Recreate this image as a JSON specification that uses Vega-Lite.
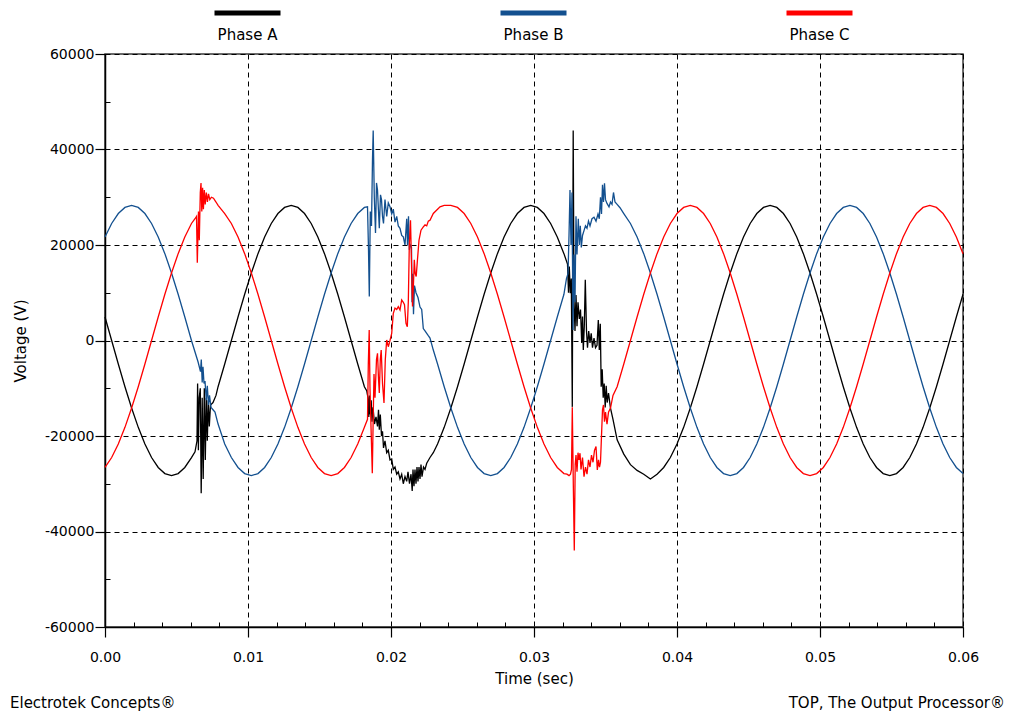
{
"$schema": "https://vega.github.io/schema/vega-lite/v6.json",
"width": 858,
"height": 573,
"autosize": {"type": "none"},
"padding": {"left": 105, "top": 54, "right": 49, "bottom": 90},
"background": "white",
"config": {
  "view": {"stroke": "#3a3a3a", "strokeWidth": 1.5},
  "font": "DejaVu Sans",
  "axis": {"labelFont": "DejaVu Sans", "titleFont": "DejaVu Sans", "labelColor": "#000", "titleColor": "#000", "titleFontWeight": "normal", "domainColor": "#000", "tickColor": "#000"}
},
"data": {"values": [
{"phase":"Phase A","t":0,"v":4914},{"phase":"Phase A","t":0.000465,"v":0},{"phase":"Phase A","t":0.00093,"v":-4914},{"phase":"Phase A","t":0.001395,"v":-9679},{"phase":"Phase A","t":0.00186,"v":-14150},{"phase":"Phase A","t":0.002326,"v":-18191},{"phase":"Phase A","t":0.002791,"v":-21679},{"phase":"Phase A","t":0.003256,"v":-24509},{"phase":"Phase A","t":0.003721,"v":-26593},{"phase":"Phase A","t":0.004186,"v":-27870},{"phase":"Phase A","t":0.004651,"v":-28300},{"phase":"Phase A","t":0.005116,"v":-27870},{"phase":"Phase A","t":0.005581,"v":-26593},{"phase":"Phase A","t":0.006047,"v":-24509},
{"phase":"Phase A","t":0.006294,"v":-23300},{"phase":"Phase A","t":0.006434,"v":-21000},{"phase":"Phase A","t":0.006476,"v":-9000},{"phase":"Phase A","t":0.006531,"v":-23000},{"phase":"Phase A","t":0.006587,"v":-12000},{"phase":"Phase A","t":0.006664,"v":-10000},{"phase":"Phase A","t":0.006727,"v":-32000},{"phase":"Phase A","t":0.006797,"v":-12000},{"phase":"Phase A","t":0.006867,"v":-29000},{"phase":"Phase A","t":0.006944,"v":-10000},{"phase":"Phase A","t":0.007014,"v":-25000},{"phase":"Phase A","t":0.007084,"v":-12000},{"phase":"Phase A","t":0.007154,"v":-21000},{"phase":"Phase A","t":0.007224,"v":-12500},{"phase":"Phase A","t":0.007294,"v":-18000},{"phase":"Phase A","t":0.007378,"v":-13500},{"phase":"Phase A","t":0.007552,"v":-13000},{"phase":"Phase A","t":0.007762,"v":-11500},
{"phase":"Phase A","t":0.007907,"v":-9679},{"phase":"Phase A","t":0.008372,"v":-4914},{"phase":"Phase A","t":0.008837,"v":0},{"phase":"Phase A","t":0.009302,"v":4914},{"phase":"Phase A","t":0.009767,"v":9679},{"phase":"Phase A","t":0.010233,"v":14150},{"phase":"Phase A","t":0.010698,"v":18191},{"phase":"Phase A","t":0.011163,"v":21679},{"phase":"Phase A","t":0.011628,"v":24509},{"phase":"Phase A","t":0.012093,"v":26593},{"phase":"Phase A","t":0.012558,"v":27870},{"phase":"Phase A","t":0.013023,"v":28300},{"phase":"Phase A","t":0.013488,"v":27870},{"phase":"Phase A","t":0.013953,"v":26593},{"phase":"Phase A","t":0.014419,"v":24509},{"phase":"Phase A","t":0.014884,"v":21679},{"phase":"Phase A","t":0.015349,"v":18191},{"phase":"Phase A","t":0.015814,"v":14150},{"phase":"Phase A","t":0.016279,"v":9679},{"phase":"Phase A","t":0.016744,"v":4914},{"phase":"Phase A","t":0.017209,"v":0},{"phase":"Phase A","t":0.017674,"v":-4914},{"phase":"Phase A","t":0.01814,"v":-9679},
{"phase":"Phase A","t":0.018301,"v":-10500},{"phase":"Phase A","t":0.018392,"v":-12000},{"phase":"Phase A","t":0.018448,"v":-16000},{"phase":"Phase A","t":0.018497,"v":-11500},{"phase":"Phase A","t":0.018552,"v":-15500},{"phase":"Phase A","t":0.018615,"v":-12500},{"phase":"Phase A","t":0.018671,"v":-17000},{"phase":"Phase A","t":0.018741,"v":-14000},{"phase":"Phase A","t":0.018846,"v":-17500},{"phase":"Phase A","t":0.018951,"v":-16000},{"phase":"Phase A","t":0.019056,"v":-18000},{"phase":"Phase A","t":0.019126,"v":-14500},{"phase":"Phase A","t":0.019182,"v":-18700},{"phase":"Phase A","t":0.019252,"v":-15500},{"phase":"Phase A","t":0.019336,"v":-20000},{"phase":"Phase A","t":0.019406,"v":-19000},{"phase":"Phase A","t":0.019476,"v":-22500},{"phase":"Phase A","t":0.01958,"v":-21000},{"phase":"Phase A","t":0.019699,"v":-23500},{"phase":"Phase A","t":0.019811,"v":-23000},{"phase":"Phase A","t":0.01993,"v":-25000},{"phase":"Phase A","t":0.020049,"v":-24800},{"phase":"Phase A","t":0.020161,"v":-27000},{"phase":"Phase A","t":0.02028,"v":-26500},{"phase":"Phase A","t":0.020399,"v":-28000},{"phase":"Phase A","t":0.02051,"v":-27500},{"phase":"Phase A","t":0.020629,"v":-29000},{"phase":"Phase A","t":0.020748,"v":-28000},{"phase":"Phase A","t":0.02086,"v":-30000},{"phase":"Phase A","t":0.020979,"v":-28500},{"phase":"Phase A","t":0.021098,"v":-29500},{"phase":"Phase A","t":0.021189,"v":-27500},{"phase":"Phase A","t":0.021294,"v":-30000},{"phase":"Phase A","t":0.021399,"v":-28000},{"phase":"Phase A","t":0.021483,"v":-31500},{"phase":"Phase A","t":0.021538,"v":-27000},{"phase":"Phase A","t":0.021608,"v":-30500},{"phase":"Phase A","t":0.021678,"v":-27000},{"phase":"Phase A","t":0.021748,"v":-30000},{"phase":"Phase A","t":0.021818,"v":-26500},{"phase":"Phase A","t":0.021888,"v":-29500},{"phase":"Phase A","t":0.021958,"v":-26500},{"phase":"Phase A","t":0.022028,"v":-29000},{"phase":"Phase A","t":0.022098,"v":-26000},{"phase":"Phase A","t":0.022168,"v":-28500},{"phase":"Phase A","t":0.022273,"v":-26500},{"phase":"Phase A","t":0.022378,"v":-27000},{"phase":"Phase A","t":0.022497,"v":-25700},{"phase":"Phase A","t":0.022727,"v":-24500},{"phase":"Phase A","t":0.022958,"v":-23500},
{"phase":"Phase A","t":0.023256,"v":-21679},{"phase":"Phase A","t":0.023721,"v":-18191},{"phase":"Phase A","t":0.024186,"v":-14150},{"phase":"Phase A","t":0.024651,"v":-9679},{"phase":"Phase A","t":0.025116,"v":-4914},{"phase":"Phase A","t":0.025581,"v":0},{"phase":"Phase A","t":0.026047,"v":4914},{"phase":"Phase A","t":0.026512,"v":9679},{"phase":"Phase A","t":0.026977,"v":14150},{"phase":"Phase A","t":0.027442,"v":18191},{"phase":"Phase A","t":0.027907,"v":21679},{"phase":"Phase A","t":0.028372,"v":24509},{"phase":"Phase A","t":0.028837,"v":26593},{"phase":"Phase A","t":0.029302,"v":27870},{"phase":"Phase A","t":0.029767,"v":28300},{"phase":"Phase A","t":0.030233,"v":27870},{"phase":"Phase A","t":0.030698,"v":26593},{"phase":"Phase A","t":0.031163,"v":24509},{"phase":"Phase A","t":0.031628,"v":21679},{"phase":"Phase A","t":0.032093,"v":18191},
{"phase":"Phase A","t":0.032343,"v":16000},{"phase":"Phase A","t":0.032413,"v":10000},{"phase":"Phase A","t":0.032469,"v":15500},{"phase":"Phase A","t":0.032538,"v":9900},{"phase":"Phase A","t":0.032608,"v":13000},{"phase":"Phase A","t":0.032678,"v":-13900},{"phase":"Phase A","t":0.032741,"v":44000},{"phase":"Phase A","t":0.032797,"v":8500},{"phase":"Phase A","t":0.032867,"v":2000},{"phase":"Phase A","t":0.032937,"v":9500},{"phase":"Phase A","t":0.033007,"v":3000},{"phase":"Phase A","t":0.033077,"v":8000},{"phase":"Phase A","t":0.033168,"v":4500},{"phase":"Phase A","t":0.033252,"v":6500},{"phase":"Phase A","t":0.033336,"v":-500},{"phase":"Phase A","t":0.033392,"v":5000},{"phase":"Phase A","t":0.033448,"v":-2000},{"phase":"Phase A","t":0.033517,"v":3000},{"phase":"Phase A","t":0.033587,"v":12700},{"phase":"Phase A","t":0.033671,"v":2000},{"phase":"Phase A","t":0.033741,"v":-1500},{"phase":"Phase A","t":0.033825,"v":2000},{"phase":"Phase A","t":0.033916,"v":-500},{"phase":"Phase A","t":0.034,"v":1500},{"phase":"Phase A","t":0.034091,"v":-1500},{"phase":"Phase A","t":0.034196,"v":500},{"phase":"Phase A","t":0.034301,"v":-1500},{"phase":"Phase A","t":0.034406,"v":-1000},{"phase":"Phase A","t":0.034497,"v":4300},{"phase":"Phase A","t":0.034566,"v":-2000},{"phase":"Phase A","t":0.034636,"v":3500},{"phase":"Phase A","t":0.034699,"v":-9700},{"phase":"Phase A","t":0.034769,"v":-6000},{"phase":"Phase A","t":0.034839,"v":-12000},{"phase":"Phase A","t":0.034909,"v":-9000},{"phase":"Phase A","t":0.034979,"v":-14000},{"phase":"Phase A","t":0.035049,"v":-9500},{"phase":"Phase A","t":0.035119,"v":-13000},{"phase":"Phase A","t":0.03521,"v":-11000},
{"phase":"Phase A","t":0.035349,"v":-14150},{"phase":"Phase A","t":0.035524,"v":-16500},{"phase":"Phase A","t":0.035814,"v":-20800},{"phase":"Phase A","t":0.036279,"v":-23800},{"phase":"Phase A","t":0.036744,"v":-26000},{"phase":"Phase A","t":0.037209,"v":-27200},{"phase":"Phase A","t":0.037674,"v":-28000},{"phase":"Phase A","t":0.03814,"v":-29000},{"phase":"Phase A","t":0.038605,"v":-28000},{"phase":"Phase A","t":0.03907,"v":-26593},{"phase":"Phase A","t":0.039535,"v":-24509},{"phase":"Phase A","t":0.04,"v":-21679},{"phase":"Phase A","t":0.040465,"v":-18191},{"phase":"Phase A","t":0.04093,"v":-14150},{"phase":"Phase A","t":0.041395,"v":-9679},{"phase":"Phase A","t":0.04186,"v":-4914},{"phase":"Phase A","t":0.042326,"v":0},{"phase":"Phase A","t":0.042791,"v":4914},{"phase":"Phase A","t":0.043256,"v":9679},{"phase":"Phase A","t":0.043721,"v":14150},{"phase":"Phase A","t":0.044186,"v":18191},{"phase":"Phase A","t":0.044651,"v":21679},{"phase":"Phase A","t":0.045116,"v":24509},{"phase":"Phase A","t":0.045581,"v":26593},{"phase":"Phase A","t":0.046047,"v":27870},{"phase":"Phase A","t":0.046512,"v":28300},{"phase":"Phase A","t":0.046977,"v":27870},{"phase":"Phase A","t":0.047442,"v":26593},{"phase":"Phase A","t":0.047907,"v":24509},{"phase":"Phase A","t":0.048372,"v":21679},{"phase":"Phase A","t":0.048837,"v":18191},{"phase":"Phase A","t":0.049302,"v":14150},{"phase":"Phase A","t":0.049767,"v":9679},{"phase":"Phase A","t":0.050233,"v":4914},{"phase":"Phase A","t":0.050698,"v":0},{"phase":"Phase A","t":0.051163,"v":-4914},{"phase":"Phase A","t":0.051628,"v":-9679},{"phase":"Phase A","t":0.052093,"v":-14150},{"phase":"Phase A","t":0.052558,"v":-18191},{"phase":"Phase A","t":0.053023,"v":-21679},{"phase":"Phase A","t":0.053488,"v":-24509},{"phase":"Phase A","t":0.053953,"v":-26593},{"phase":"Phase A","t":0.054419,"v":-27870},{"phase":"Phase A","t":0.054884,"v":-28300},{"phase":"Phase A","t":0.055349,"v":-27870},{"phase":"Phase A","t":0.055814,"v":-26593},{"phase":"Phase A","t":0.056279,"v":-24509},{"phase":"Phase A","t":0.056744,"v":-21679},{"phase":"Phase A","t":0.057209,"v":-18191},{"phase":"Phase A","t":0.057674,"v":-14150},{"phase":"Phase A","t":0.05814,"v":-9679},{"phase":"Phase A","t":0.058605,"v":-4914},{"phase":"Phase A","t":0.05907,"v":0},{"phase":"Phase A","t":0.059535,"v":4914},{"phase":"Phase A","t":0.06,"v":9679},

{"phase":"Phase B","t":0,"v":21679},{"phase":"Phase B","t":0.000465,"v":24509},{"phase":"Phase B","t":0.00093,"v":26593},{"phase":"Phase B","t":0.001395,"v":27870},{"phase":"Phase B","t":0.00186,"v":28300},{"phase":"Phase B","t":0.002326,"v":27870},{"phase":"Phase B","t":0.002791,"v":26593},{"phase":"Phase B","t":0.003256,"v":24509},{"phase":"Phase B","t":0.003721,"v":21679},{"phase":"Phase B","t":0.004186,"v":18191},{"phase":"Phase B","t":0.004651,"v":14150},{"phase":"Phase B","t":0.005116,"v":9679},{"phase":"Phase B","t":0.005581,"v":4914},{"phase":"Phase B","t":0.006047,"v":0},
{"phase":"Phase B","t":0.00651,"v":-4500},{"phase":"Phase B","t":0.006678,"v":-6500},{"phase":"Phase B","t":0.006734,"v":-4000},{"phase":"Phase B","t":0.006797,"v":-8800},{"phase":"Phase B","t":0.006853,"v":-5500},{"phase":"Phase B","t":0.006923,"v":-9000},{"phase":"Phase B","t":0.006993,"v":-8500},{"phase":"Phase B","t":0.007084,"v":-12500},{"phase":"Phase B","t":0.007154,"v":-9500},{"phase":"Phase B","t":0.007238,"v":-13500},{"phase":"Phase B","t":0.007308,"v":-11500},{"phase":"Phase B","t":0.007413,"v":-14000},{"phase":"Phase B","t":0.007552,"v":-14500},{"phase":"Phase B","t":0.007692,"v":-15000},
{"phase":"Phase B","t":0.007907,"v":-17500},{"phase":"Phase B","t":0.008372,"v":-21679},{"phase":"Phase B","t":0.008837,"v":-24509},{"phase":"Phase B","t":0.009302,"v":-26593},{"phase":"Phase B","t":0.009767,"v":-27870},{"phase":"Phase B","t":0.010233,"v":-28300},{"phase":"Phase B","t":0.010698,"v":-27870},{"phase":"Phase B","t":0.011163,"v":-26593},{"phase":"Phase B","t":0.011628,"v":-24509},{"phase":"Phase B","t":0.012093,"v":-21679},{"phase":"Phase B","t":0.012558,"v":-18191},{"phase":"Phase B","t":0.013023,"v":-14150},{"phase":"Phase B","t":0.013488,"v":-9679},{"phase":"Phase B","t":0.013953,"v":-4914},{"phase":"Phase B","t":0.014419,"v":0},{"phase":"Phase B","t":0.014884,"v":4914},{"phase":"Phase B","t":0.015349,"v":9679},{"phase":"Phase B","t":0.015814,"v":14150},{"phase":"Phase B","t":0.016279,"v":18191},{"phase":"Phase B","t":0.016744,"v":21679},{"phase":"Phase B","t":0.017209,"v":24509},{"phase":"Phase B","t":0.017674,"v":26593},{"phase":"Phase B","t":0.01814,"v":27870},
{"phase":"Phase B","t":0.018357,"v":28000},{"phase":"Phase B","t":0.018427,"v":19000},{"phase":"Phase B","t":0.018483,"v":9200},{"phase":"Phase B","t":0.018552,"v":27000},{"phase":"Phase B","t":0.018636,"v":24000},{"phase":"Phase B","t":0.018706,"v":38000},{"phase":"Phase B","t":0.018755,"v":44000},{"phase":"Phase B","t":0.018832,"v":30000},{"phase":"Phase B","t":0.018916,"v":22500},{"phase":"Phase B","t":0.018986,"v":33000},{"phase":"Phase B","t":0.019056,"v":31500},{"phase":"Phase B","t":0.019126,"v":27000},{"phase":"Phase B","t":0.019182,"v":23500},{"phase":"Phase B","t":0.019266,"v":30500},{"phase":"Phase B","t":0.019336,"v":29500},{"phase":"Phase B","t":0.019406,"v":26000},{"phase":"Phase B","t":0.019476,"v":24500},{"phase":"Phase B","t":0.01958,"v":29500},{"phase":"Phase B","t":0.019699,"v":26000},{"phase":"Phase B","t":0.019811,"v":28800},{"phase":"Phase B","t":0.01993,"v":28000},{"phase":"Phase B","t":0.020049,"v":26500},{"phase":"Phase B","t":0.020161,"v":27500},{"phase":"Phase B","t":0.02028,"v":24800},{"phase":"Phase B","t":0.020399,"v":26000},{"phase":"Phase B","t":0.02051,"v":24000},{"phase":"Phase B","t":0.020629,"v":23500},{"phase":"Phase B","t":0.020748,"v":22000},{"phase":"Phase B","t":0.02086,"v":21700},{"phase":"Phase B","t":0.020979,"v":20000},{"phase":"Phase B","t":0.021098,"v":25500},{"phase":"Phase B","t":0.021154,"v":20000},{"phase":"Phase B","t":0.021224,"v":26000},{"phase":"Phase B","t":0.02128,"v":19000},{"phase":"Phase B","t":0.02135,"v":20000},{"phase":"Phase B","t":0.021434,"v":19500},{"phase":"Phase B","t":0.021469,"v":8000},{"phase":"Phase B","t":0.021517,"v":14000},{"phase":"Phase B","t":0.021573,"v":5500},{"phase":"Phase B","t":0.021643,"v":11500},{"phase":"Phase B","t":0.021748,"v":10000},{"phase":"Phase B","t":0.021888,"v":9000},{"phase":"Phase B","t":0.022028,"v":7000},{"phase":"Phase B","t":0.022147,"v":6500},{"phase":"Phase B","t":0.022259,"v":2500},{"phase":"Phase B","t":0.022378,"v":2000},{"phase":"Phase B","t":0.022497,"v":1500},{"phase":"Phase B","t":0.022608,"v":1000},{"phase":"Phase B","t":0.022727,"v":500},{"phase":"Phase B","t":0.022958,"v":-2000},
{"phase":"Phase B","t":0.023256,"v":-4914},{"phase":"Phase B","t":0.023721,"v":-9679},{"phase":"Phase B","t":0.024186,"v":-14150},{"phase":"Phase B","t":0.024651,"v":-18191},{"phase":"Phase B","t":0.025116,"v":-21679},{"phase":"Phase B","t":0.025581,"v":-24509},{"phase":"Phase B","t":0.026047,"v":-26593},{"phase":"Phase B","t":0.026512,"v":-27870},{"phase":"Phase B","t":0.026977,"v":-28300},{"phase":"Phase B","t":0.027442,"v":-27870},{"phase":"Phase B","t":0.027907,"v":-26593},{"phase":"Phase B","t":0.028372,"v":-24509},{"phase":"Phase B","t":0.028837,"v":-21679},{"phase":"Phase B","t":0.029302,"v":-18191},{"phase":"Phase B","t":0.029767,"v":-14150},{"phase":"Phase B","t":0.030233,"v":-9679},{"phase":"Phase B","t":0.030698,"v":-4914},{"phase":"Phase B","t":0.031163,"v":0},{"phase":"Phase B","t":0.031628,"v":4914},{"phase":"Phase B","t":0.032093,"v":9679},
{"phase":"Phase B","t":0.032273,"v":13000},{"phase":"Phase B","t":0.032378,"v":14000},{"phase":"Phase B","t":0.032448,"v":22000},{"phase":"Phase B","t":0.032517,"v":31500},{"phase":"Phase B","t":0.032587,"v":20000},{"phase":"Phase B","t":0.032657,"v":31000},{"phase":"Phase B","t":0.032727,"v":2200},{"phase":"Phase B","t":0.032797,"v":18000},{"phase":"Phase B","t":0.032867,"v":8000},{"phase":"Phase B","t":0.032937,"v":26000},{"phase":"Phase B","t":0.033007,"v":18000},{"phase":"Phase B","t":0.033098,"v":25500},{"phase":"Phase B","t":0.033168,"v":20000},{"phase":"Phase B","t":0.033238,"v":24000},{"phase":"Phase B","t":0.033308,"v":19500},{"phase":"Phase B","t":0.033392,"v":22000},{"phase":"Phase B","t":0.033497,"v":23000},{"phase":"Phase B","t":0.033601,"v":24000},{"phase":"Phase B","t":0.033706,"v":23500},{"phase":"Phase B","t":0.033811,"v":25000},{"phase":"Phase B","t":0.033916,"v":24000},{"phase":"Phase B","t":0.034056,"v":25500},{"phase":"Phase B","t":0.034196,"v":25800},{"phase":"Phase B","t":0.034336,"v":25000},{"phase":"Phase B","t":0.034476,"v":26500},{"phase":"Phase B","t":0.034566,"v":25500},{"phase":"Phase B","t":0.03465,"v":30000},{"phase":"Phase B","t":0.03472,"v":26500},{"phase":"Phase B","t":0.03479,"v":32600},{"phase":"Phase B","t":0.03486,"v":29000},{"phase":"Phase B","t":0.03493,"v":32900},{"phase":"Phase B","t":0.035,"v":29500},{"phase":"Phase B","t":0.035105,"v":28700},{"phase":"Phase B","t":0.035245,"v":28000},{"phase":"Phase B","t":0.035349,"v":29000},{"phase":"Phase B","t":0.035455,"v":28500},{"phase":"Phase B","t":0.035559,"v":31000},{"phase":"Phase B","t":0.035664,"v":29000},{"phase":"Phase B","t":0.035814,"v":28500},{"phase":"Phase B","t":0.036014,"v":27800},
{"phase":"Phase B","t":0.036279,"v":26593},{"phase":"Phase B","t":0.036744,"v":24509},{"phase":"Phase B","t":0.037209,"v":21679},{"phase":"Phase B","t":0.037674,"v":18191},{"phase":"Phase B","t":0.03814,"v":14150},{"phase":"Phase B","t":0.038605,"v":9679},{"phase":"Phase B","t":0.03907,"v":4914},{"phase":"Phase B","t":0.039535,"v":0},{"phase":"Phase B","t":0.04,"v":-4914},{"phase":"Phase B","t":0.040465,"v":-9679},{"phase":"Phase B","t":0.04093,"v":-14150},{"phase":"Phase B","t":0.041395,"v":-18191},{"phase":"Phase B","t":0.04186,"v":-21679},{"phase":"Phase B","t":0.042326,"v":-24509},{"phase":"Phase B","t":0.042791,"v":-26593},{"phase":"Phase B","t":0.043256,"v":-27870},{"phase":"Phase B","t":0.043721,"v":-28300},{"phase":"Phase B","t":0.044186,"v":-27870},{"phase":"Phase B","t":0.044651,"v":-26593},{"phase":"Phase B","t":0.045116,"v":-24509},{"phase":"Phase B","t":0.045581,"v":-21679},{"phase":"Phase B","t":0.046047,"v":-18191},{"phase":"Phase B","t":0.046512,"v":-14150},{"phase":"Phase B","t":0.046977,"v":-9679},{"phase":"Phase B","t":0.047442,"v":-4914},{"phase":"Phase B","t":0.047907,"v":0},{"phase":"Phase B","t":0.048372,"v":4914},{"phase":"Phase B","t":0.048837,"v":9679},{"phase":"Phase B","t":0.049302,"v":14150},{"phase":"Phase B","t":0.049767,"v":18191},{"phase":"Phase B","t":0.050233,"v":21679},{"phase":"Phase B","t":0.050698,"v":24509},{"phase":"Phase B","t":0.051163,"v":26593},{"phase":"Phase B","t":0.051628,"v":27870},{"phase":"Phase B","t":0.052093,"v":28300},{"phase":"Phase B","t":0.052558,"v":27870},{"phase":"Phase B","t":0.053023,"v":26593},{"phase":"Phase B","t":0.053488,"v":24509},{"phase":"Phase B","t":0.053953,"v":21679},{"phase":"Phase B","t":0.054419,"v":18191},{"phase":"Phase B","t":0.054884,"v":14150},{"phase":"Phase B","t":0.055349,"v":9679},{"phase":"Phase B","t":0.055814,"v":4914},{"phase":"Phase B","t":0.056279,"v":0},{"phase":"Phase B","t":0.056744,"v":-4914},{"phase":"Phase B","t":0.057209,"v":-9679},{"phase":"Phase B","t":0.057674,"v":-14150},{"phase":"Phase B","t":0.05814,"v":-18191},{"phase":"Phase B","t":0.058605,"v":-21679},{"phase":"Phase B","t":0.05907,"v":-24509},{"phase":"Phase B","t":0.059535,"v":-26593},{"phase":"Phase B","t":0.06,"v":-27870},

{"phase":"Phase C","t":0,"v":-26593},{"phase":"Phase C","t":0.000465,"v":-24509},{"phase":"Phase C","t":0.00093,"v":-21679},{"phase":"Phase C","t":0.001395,"v":-18191},{"phase":"Phase C","t":0.00186,"v":-14150},{"phase":"Phase C","t":0.002326,"v":-9679},{"phase":"Phase C","t":0.002791,"v":-4914},{"phase":"Phase C","t":0.003256,"v":0},{"phase":"Phase C","t":0.003721,"v":4914},{"phase":"Phase C","t":0.004186,"v":9679},{"phase":"Phase C","t":0.004651,"v":14150},{"phase":"Phase C","t":0.005116,"v":18191},{"phase":"Phase C","t":0.005581,"v":21679},{"phase":"Phase C","t":0.006047,"v":24509},
{"phase":"Phase C","t":0.006294,"v":25500},{"phase":"Phase C","t":0.006399,"v":26000},{"phase":"Phase C","t":0.006455,"v":16300},{"phase":"Phase C","t":0.006538,"v":27000},{"phase":"Phase C","t":0.006594,"v":21000},{"phase":"Phase C","t":0.006664,"v":31000},{"phase":"Phase C","t":0.006713,"v":33000},{"phase":"Phase C","t":0.006769,"v":27000},{"phase":"Phase C","t":0.006825,"v":32000},{"phase":"Phase C","t":0.006881,"v":27500},{"phase":"Phase C","t":0.006944,"v":31500},{"phase":"Phase C","t":0.007007,"v":28500},{"phase":"Phase C","t":0.007084,"v":31000},{"phase":"Phase C","t":0.007161,"v":29000},{"phase":"Phase C","t":0.007238,"v":30700},{"phase":"Phase C","t":0.007329,"v":29500},{"phase":"Phase C","t":0.007441,"v":30000},{"phase":"Phase C","t":0.007587,"v":29800},{"phase":"Phase C","t":0.007762,"v":29000},
{"phase":"Phase C","t":0.007907,"v":28300},{"phase":"Phase C","t":0.008372,"v":26593},{"phase":"Phase C","t":0.008837,"v":24509},{"phase":"Phase C","t":0.009302,"v":21679},{"phase":"Phase C","t":0.009767,"v":18191},{"phase":"Phase C","t":0.010233,"v":14150},{"phase":"Phase C","t":0.010698,"v":9679},{"phase":"Phase C","t":0.011163,"v":4914},{"phase":"Phase C","t":0.011628,"v":0},{"phase":"Phase C","t":0.012093,"v":-4914},{"phase":"Phase C","t":0.012558,"v":-9679},{"phase":"Phase C","t":0.013023,"v":-14150},{"phase":"Phase C","t":0.013488,"v":-18191},{"phase":"Phase C","t":0.013953,"v":-21679},{"phase":"Phase C","t":0.014419,"v":-24509},{"phase":"Phase C","t":0.014884,"v":-26593},{"phase":"Phase C","t":0.015349,"v":-27870},{"phase":"Phase C","t":0.015814,"v":-28300},{"phase":"Phase C","t":0.016279,"v":-27870},{"phase":"Phase C","t":0.016744,"v":-26593},{"phase":"Phase C","t":0.017209,"v":-24509},{"phase":"Phase C","t":0.017674,"v":-21679},{"phase":"Phase C","t":0.01814,"v":-18191},
{"phase":"Phase C","t":0.018357,"v":-16500},{"phase":"Phase C","t":0.018413,"v":-5000},{"phase":"Phase C","t":0.018476,"v":2200},{"phase":"Phase C","t":0.018531,"v":-10000},{"phase":"Phase C","t":0.018601,"v":-18000},{"phase":"Phase C","t":0.018692,"v":-27800},{"phase":"Phase C","t":0.018762,"v":-15000},{"phase":"Phase C","t":0.018811,"v":-7000},{"phase":"Phase C","t":0.018881,"v":-12000},{"phase":"Phase C","t":0.018986,"v":-4000},{"phase":"Phase C","t":0.019056,"v":-2700},{"phase":"Phase C","t":0.019126,"v":-8000},{"phase":"Phase C","t":0.019182,"v":-11000},{"phase":"Phase C","t":0.019252,"v":-4000},{"phase":"Phase C","t":0.019315,"v":-2000},{"phase":"Phase C","t":0.019406,"v":-9000},{"phase":"Phase C","t":0.01951,"v":-13100},{"phase":"Phase C","t":0.019601,"v":-4000},{"phase":"Phase C","t":0.019699,"v":100},{"phase":"Phase C","t":0.019811,"v":-1300},{"phase":"Phase C","t":0.01993,"v":0},{"phase":"Phase C","t":0.020049,"v":1500},{"phase":"Phase C","t":0.020161,"v":5700},{"phase":"Phase C","t":0.02028,"v":6800},{"phase":"Phase C","t":0.020399,"v":6500},{"phase":"Phase C","t":0.02051,"v":7100},{"phase":"Phase C","t":0.020629,"v":6400},{"phase":"Phase C","t":0.020748,"v":8500},{"phase":"Phase C","t":0.02086,"v":8000},{"phase":"Phase C","t":0.020944,"v":7500},{"phase":"Phase C","t":0.021049,"v":3600},{"phase":"Phase C","t":0.02114,"v":2900},{"phase":"Phase C","t":0.02121,"v":8000},{"phase":"Phase C","t":0.02128,"v":20000},{"phase":"Phase C","t":0.021364,"v":25200},{"phase":"Phase C","t":0.021434,"v":16000},{"phase":"Phase C","t":0.021503,"v":7100},{"phase":"Phase C","t":0.021573,"v":12000},{"phase":"Phase C","t":0.021629,"v":16900},{"phase":"Phase C","t":0.021692,"v":14000},{"phase":"Phase C","t":0.021762,"v":13400},{"phase":"Phase C","t":0.021853,"v":17000},{"phase":"Phase C","t":0.021958,"v":21000},{"phase":"Phase C","t":0.022098,"v":23100},{"phase":"Phase C","t":0.022259,"v":23800},{"phase":"Phase C","t":0.022378,"v":24200},{"phase":"Phase C","t":0.022497,"v":24000},{"phase":"Phase C","t":0.022608,"v":25000},{"phase":"Phase C","t":0.022727,"v":25200},{"phase":"Phase C","t":0.022958,"v":26600},
{"phase":"Phase C","t":0.023256,"v":27500},{"phase":"Phase C","t":0.023427,"v":28000},{"phase":"Phase C","t":0.023721,"v":28300},{"phase":"Phase C","t":0.024186,"v":28300},{"phase":"Phase C","t":0.024651,"v":27870},{"phase":"Phase C","t":0.025116,"v":26593},{"phase":"Phase C","t":0.025581,"v":24509},{"phase":"Phase C","t":0.026047,"v":21679},{"phase":"Phase C","t":0.026512,"v":18191},{"phase":"Phase C","t":0.026977,"v":14150},{"phase":"Phase C","t":0.027442,"v":9679},{"phase":"Phase C","t":0.027907,"v":4914},{"phase":"Phase C","t":0.028372,"v":0},{"phase":"Phase C","t":0.028837,"v":-4914},{"phase":"Phase C","t":0.029302,"v":-9679},{"phase":"Phase C","t":0.029767,"v":-14150},{"phase":"Phase C","t":0.030233,"v":-18191},{"phase":"Phase C","t":0.030698,"v":-21679},{"phase":"Phase C","t":0.031163,"v":-24509},{"phase":"Phase C","t":0.031628,"v":-26593},{"phase":"Phase C","t":0.032093,"v":-27870},
{"phase":"Phase C","t":0.032308,"v":-28000},{"phase":"Phase C","t":0.032448,"v":-28300},{"phase":"Phase C","t":0.032552,"v":-28000},{"phase":"Phase C","t":0.032622,"v":-27000},{"phase":"Phase C","t":0.032678,"v":-14000},{"phase":"Phase C","t":0.032748,"v":-30000},{"phase":"Phase C","t":0.032818,"v":-44000},{"phase":"Phase C","t":0.032881,"v":-26000},{"phase":"Phase C","t":0.032937,"v":-24000},{"phase":"Phase C","t":0.033007,"v":-27500},{"phase":"Phase C","t":0.033077,"v":-23500},{"phase":"Phase C","t":0.033147,"v":-25000},{"phase":"Phase C","t":0.033217,"v":-23600},{"phase":"Phase C","t":0.033287,"v":-27000},{"phase":"Phase C","t":0.033392,"v":-24500},{"phase":"Phase C","t":0.033497,"v":-28500},{"phase":"Phase C","t":0.033601,"v":-26500},{"phase":"Phase C","t":0.033706,"v":-28000},{"phase":"Phase C","t":0.033811,"v":-25000},{"phase":"Phase C","t":0.033916,"v":-26500},{"phase":"Phase C","t":0.034021,"v":-24000},{"phase":"Phase C","t":0.034126,"v":-25500},{"phase":"Phase C","t":0.034231,"v":-23000},{"phase":"Phase C","t":0.034336,"v":-22200},{"phase":"Phase C","t":0.034427,"v":-27100},{"phase":"Phase C","t":0.03451,"v":-25000},{"phase":"Phase C","t":0.03458,"v":-26500},{"phase":"Phase C","t":0.03465,"v":-25500},{"phase":"Phase C","t":0.03472,"v":-20000},{"phase":"Phase C","t":0.03479,"v":-14500},{"phase":"Phase C","t":0.03486,"v":-13500},{"phase":"Phase C","t":0.03493,"v":-17000},{"phase":"Phase C","t":0.035,"v":-15000},{"phase":"Phase C","t":0.035105,"v":-17500},{"phase":"Phase C","t":0.03521,"v":-15000},
{"phase":"Phase C","t":0.035349,"v":-14150},{"phase":"Phase C","t":0.035524,"v":-11500},{"phase":"Phase C","t":0.035814,"v":-9679},{"phase":"Phase C","t":0.036279,"v":-4914},{"phase":"Phase C","t":0.036744,"v":0},{"phase":"Phase C","t":0.037209,"v":4914},{"phase":"Phase C","t":0.037674,"v":9679},{"phase":"Phase C","t":0.03814,"v":14150},{"phase":"Phase C","t":0.038605,"v":18191},{"phase":"Phase C","t":0.03907,"v":21679},{"phase":"Phase C","t":0.039535,"v":24509},{"phase":"Phase C","t":0.04,"v":26593},{"phase":"Phase C","t":0.040465,"v":27870},{"phase":"Phase C","t":0.04093,"v":28300},{"phase":"Phase C","t":0.041395,"v":27870},{"phase":"Phase C","t":0.04186,"v":26593},{"phase":"Phase C","t":0.042326,"v":24509},{"phase":"Phase C","t":0.042791,"v":21679},{"phase":"Phase C","t":0.043256,"v":18191},{"phase":"Phase C","t":0.043721,"v":14150},{"phase":"Phase C","t":0.044186,"v":9679},{"phase":"Phase C","t":0.044651,"v":4914},{"phase":"Phase C","t":0.045116,"v":0},{"phase":"Phase C","t":0.045581,"v":-4914},{"phase":"Phase C","t":0.046047,"v":-9679},{"phase":"Phase C","t":0.046512,"v":-14150},{"phase":"Phase C","t":0.046977,"v":-18191},{"phase":"Phase C","t":0.047442,"v":-21679},{"phase":"Phase C","t":0.047907,"v":-24509},{"phase":"Phase C","t":0.048372,"v":-26593},{"phase":"Phase C","t":0.048837,"v":-27870},{"phase":"Phase C","t":0.049302,"v":-28300},{"phase":"Phase C","t":0.049767,"v":-27870},{"phase":"Phase C","t":0.050233,"v":-26593},{"phase":"Phase C","t":0.050698,"v":-24509},{"phase":"Phase C","t":0.051163,"v":-21679},{"phase":"Phase C","t":0.051628,"v":-18191},{"phase":"Phase C","t":0.052093,"v":-14150},{"phase":"Phase C","t":0.052558,"v":-9679},{"phase":"Phase C","t":0.053023,"v":-4914},{"phase":"Phase C","t":0.053488,"v":0},{"phase":"Phase C","t":0.053953,"v":4914},{"phase":"Phase C","t":0.054419,"v":9679},{"phase":"Phase C","t":0.054884,"v":14150},{"phase":"Phase C","t":0.055349,"v":18191},{"phase":"Phase C","t":0.055814,"v":21679},{"phase":"Phase C","t":0.056279,"v":24509},{"phase":"Phase C","t":0.056744,"v":26593},{"phase":"Phase C","t":0.057209,"v":27870},{"phase":"Phase C","t":0.057674,"v":28300},{"phase":"Phase C","t":0.05814,"v":27870},{"phase":"Phase C","t":0.058605,"v":26593},{"phase":"Phase C","t":0.05907,"v":24509},{"phase":"Phase C","t":0.059535,"v":21679},{"phase":"Phase C","t":0.06,"v":18191}
]},
"layer": [
  {
    "mark": {"type": "line", "strokeWidth": 1.3},
    "encoding": {
      "x": {"field": "t", "type": "quantitative", "scale": {"domain": [0, 0.06], "nice": false, "zero": false},
        "axis": {"values": [0, 0.01, 0.02, 0.03, 0.04, 0.05, 0.06], "format": ".2f", "title": "Time (sec)", "tickSize": 10, "tickWidth": 1.2, "labelPadding": 13, "labelFontSize": 14, "titleFontSize": 15, "titleY": 51, "titleBaseline": "middle", "grid": true, "gridDash": [5, 4], "gridColor": "#000", "gridWidth": 1, "domainWidth": 1.5, "labelFlush": false}},
      "y": {"field": "v", "type": "quantitative", "scale": {"domain": [-60000, 60000], "nice": false},
        "axis": {"values": [-60000, -40000, -20000, 0, 20000, 40000, 60000], "labelExpr": "'' + datum.value", "title": "Voltage (V)", "tickSize": 10, "tickWidth": 1.2, "labelPadding": 1, "labelFontSize": 14, "titleFontSize": 15, "titleX": -85, "titleY": 286.5, "titleAlign": "center", "titleBaseline": "middle", "grid": true, "gridDash": [5, 4], "gridColor": "#000", "gridWidth": 1, "domainWidth": 1.5}},
      "color": {"field": "phase", "type": "nominal",
        "scale": {"domain": ["Phase A", "Phase B", "Phase C"], "range": ["#000000", "#13508f", "#ff0000"]},
        "legend": {"title": null, "orient": "none", "legendX": 107, "legendY": -62, "direction": "horizontal", "padding": 0,
          "symbolType": "M-1,-0.45L1,-0.45", "symbolSize": 4356, "symbolStrokeWidth": 5,
          "labelFont": "DejaVu Sans", "labelFontSize": 15, "labelColor": "#000", "labelAlign": "center", "labelBaseline": "top", "labelOffset": -35.5, "columnPadding": 199,
          "encode": {"symbols": {"update": {"strokeWidth": {"value": 5}}}}}}
    }
  },
  {
    "data": {"values": [{"label": "TOP, The Output Processor®"}]},
    "mark": {"type": "text", "align": "right", "baseline": "middle", "dx": 42, "dy": 76, "fontSize": 15, "font": "DejaVu Sans", "color": "#000"},
    "encoding": {
      "text": {"field": "label"},
      "x": {"datum": 0.06, "type": "quantitative",
        "axis": {"orient": "bottom", "values": [0.002, 0.004, 0.006, 0.008, 0.012, 0.014, 0.016, 0.018, 0.022, 0.024, 0.026, 0.028, 0.032, 0.034, 0.036, 0.038, 0.042, 0.044, 0.046, 0.048, 0.052, 0.054, 0.056, 0.058], "tickSize": -5, "tickWidth": 1, "labels": false, "domain": false, "grid": false, "title": null}},
      "y": {"datum": -60000, "type": "quantitative",
        "axis": {"orient": "left", "values": [-50000, -30000, -10000, 10000, 30000, 50000], "tickSize": -5, "tickWidth": 1, "labels": false, "domain": false, "grid": false, "title": null}}
    }
  },
  {
    "data": {"values": [{"label": "Electrotek Concepts®"}]},
    "mark": {"type": "text", "align": "left", "baseline": "middle", "dx": -95, "dy": 76, "fontSize": 15, "font": "DejaVu Sans", "color": "#000"},
    "encoding": {
      "text": {"field": "label"},
      "x": {"datum": 0, "type": "quantitative", "axis": null},
      "y": {"datum": -60000, "type": "quantitative", "axis": null}
    }
  }
],
"resolve": {"axis": {"x": "independent", "y": "independent"}}
}
